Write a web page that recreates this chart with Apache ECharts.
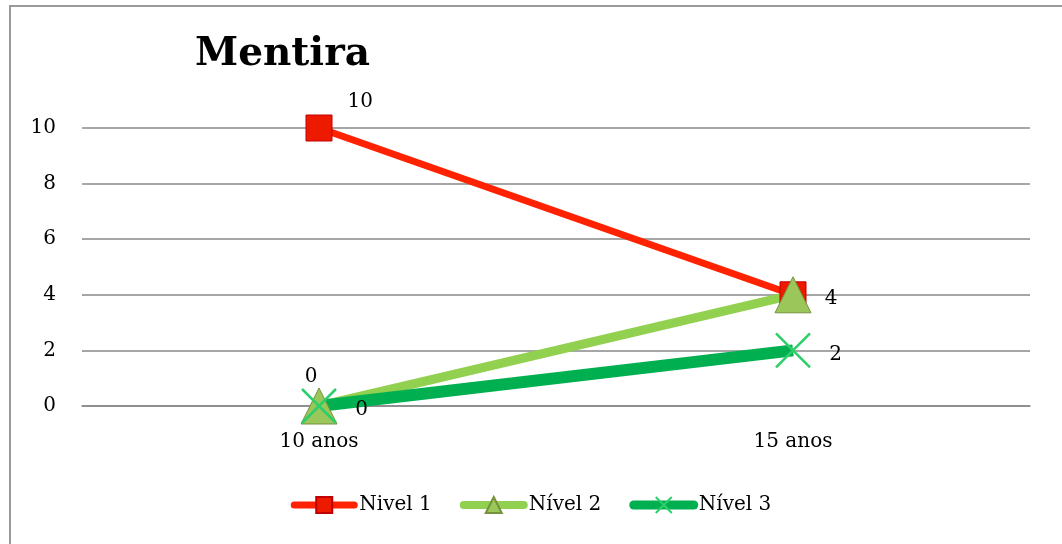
<!DOCTYPE html>
<html>
<head>
<meta charset="utf-8">
<script src="https://cdn.jsdelivr.net/npm/echarts@6/dist/echarts.min.js"></script>
<style>
html,body{margin:0;padding:0;background:#fff;}
#main{width:1062px;height:544px;}
</style>
</head>
<body>
<div id="main"></div>
<script>
var categories = ['10 anos', '15 anos'];
var nivel1 = [10, 4];
var nivel2 = [0, 4];
var nivel3 = [0, 2];
var yTicks = [0, 2, 4, 6, 8, 10];

var serif = '"DejaVu Serif", "Liberation Serif", serif';
var xPath = 'path://M0,0L10,10M10,0L0,10';

var myChart = echarts.init(document.getElementById('main'));
var option = {
    backgroundColor: '#fff',
    animation: false,
    title: {
        text: 'Mentira',
        left: 190,
        top: 30,
        textStyle: { fontFamily: serif, fontSize: 39, fontWeight: 'bold', color: '#000' }
    },
    graphic: [{
        type: 'rect',
        shape: { x: 10, y: 6, width: 1100, height: 600 },
        style: { fill: 'none', stroke: '#999', lineWidth: 2 },
        silent: true,
        z: -1
    }],
    legend: {
        bottom: 24,
        left: 'center',
        itemWidth: 60,
        itemHeight: 20,
        itemGap: 28,
        textStyle: { fontFamily: serif, fontSize: 20, color: '#000' },
        data: [
            { name: 'Nivel 1', lineStyle: { width: 7, cap: 'round' } },
            { name: 'Nível 2', lineStyle: { width: 8, cap: 'round' } },
            { name: 'Nível 3', lineStyle: { width: 9, cap: 'round' } }
        ]
    },
    grid: { left: 82, right: 32, top: 128, bottom: 138 },
    xAxis: {
        type: 'category',
        data: categories,
        axisLine: { lineStyle: { color: '#888', width: 1.5 } },
        axisTick: { show: false },
        axisLabel: { fontFamily: serif, fontSize: 20, color: '#000', margin: 26 }
    },
    yAxis: {
        type: 'value',
        min: yTicks[0],
        max: yTicks[yTicks.length - 1],
        interval: 2,
        axisLine: { show: false },
        axisTick: { show: false },
        axisLabel: { fontFamily: serif, fontSize: 20, color: '#000', margin: 26 },
        splitLine: { lineStyle: { color: '#888', width: 1.5 } }
    },
    series: [
        {
            name: 'Nivel 1',
            type: 'line',
            data: nivel1,
            symbol: 'rect',
            symbolSize: 26,
            lineStyle: { color: '#ff2200', width: 7 },
            itemStyle: { color: '#ee1a00', borderColor: '#c00000', borderWidth: 1 },
            label: {
                show: true, fontFamily: serif, fontSize: 20, color: '#000',
                formatter: function (p) { return p.dataIndex === 0 ? p.value : ''; },
                position: [28, -38]
            },
            labelLayout: { dx: 14, dy: 15 }
        },
        {
            name: 'Nível 2',
            type: 'line',
            data: nivel2,
            symbol: 'triangle',
            symbolSize: [36, 36],
            lineStyle: { color: '#92d050', width: 9 },
            itemStyle: { color: '#9bc65a', borderColor: '#76923c', borderWidth: 1 },
            label: {
                show: true, fontFamily: serif, fontSize: 20, color: '#000',
                formatter: function (p) { return p.value; }
            },
            labelLayout: function (p) {
                return p.dataIndex === 0 ? { dx: -8, dy: 4 } : { dx: 38, dy: 37 };
            }
        },
        {
            name: 'Nível 3',
            type: 'line',
            data: nivel3,
            symbol: xPath,
            symbolSize: 34,
            lineStyle: { color: '#00b050', width: 12 },
            itemStyle: { color: 'rgba(0,0,0,0)', borderColor: '#2ccf6a', borderWidth: 2.5 },
            label: {
                show: true, fontFamily: serif, fontSize: 20, color: '#000',
                position: 'right', distance: 18
            },
            labelLayout: { dy: 4 }
        }
    ]
};
myChart.setOption(option);
</script>
</body>
</html>
